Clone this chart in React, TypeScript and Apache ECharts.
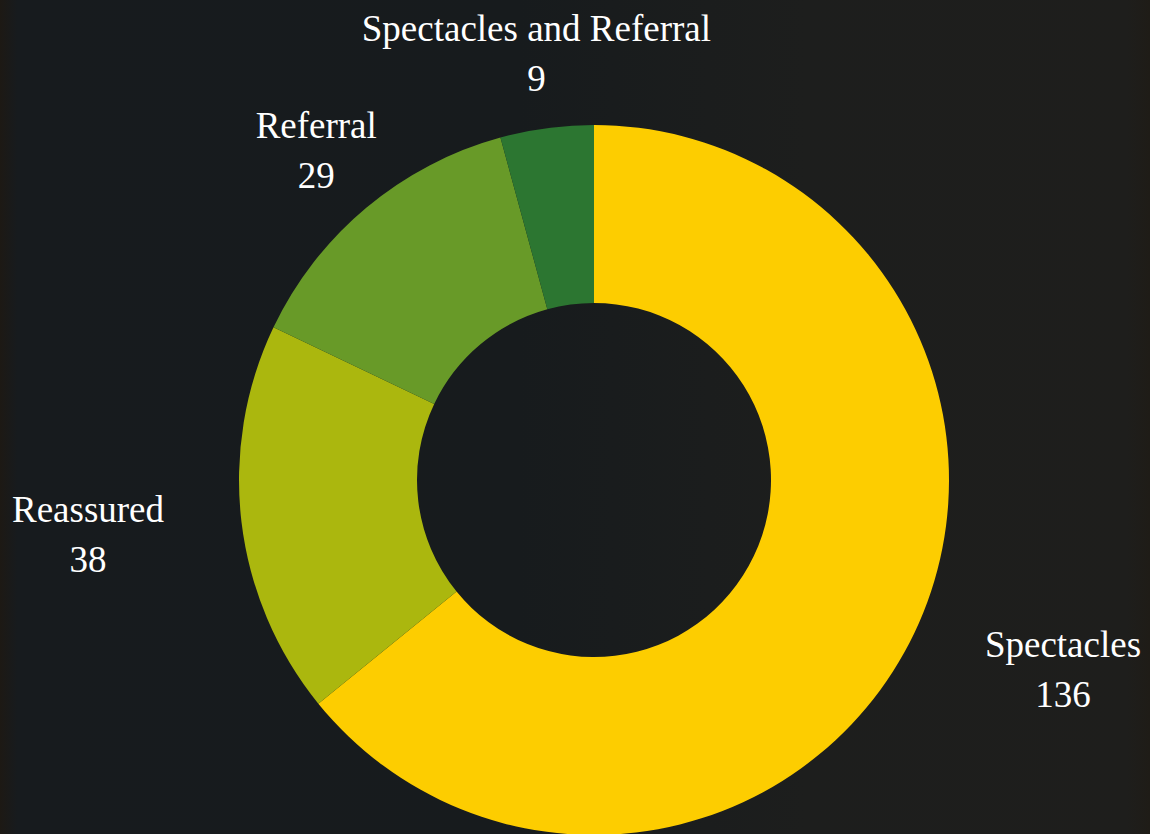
import React, { useEffect, useRef } from "react";
import * as echarts from "echarts";

const categories: string[] = ["Spectacles", "Reassured", "Referral", "Spectacles and Referral"];
const values: number[] = [136, 38, 29, 9];
const colors: string[] = ["#FDCD00", "#ABB70E", "#689A28", "#2C7631"];

export default function App() {
  const ref = useRef<HTMLDivElement>(null);

  useEffect(() => {
    document.body.style.margin = "0";
    if (!ref.current) return;
    const chart = echarts.init(ref.current, null, { renderer: "svg" });
    const total = values.reduce((a, b) => a + b, 0);
    const midAngles: number[] = [];
    let acc = 0;
    values.forEach((v) => {
      midAngles.push(((acc + v / 2) / total) * Math.PI * 2);
      acc += v;
    });

    chart.setOption({
      animation: false,
      backgroundColor: {
        type: "linear",
        x: 0,
        y: 0,
        x2: 1,
        y2: 0,
        colorStops: [
          { offset: 0, color: "#1d1914" },
          { offset: 0.015, color: "#171b1e" },
          { offset: 0.45, color: "#171b1d" },
          { offset: 0.7, color: "#1d1e1d" },
          { offset: 0.98, color: "#1e1e1c" },
          { offset: 1, color: "#1f1c17" },
        ],
      },
      series: [
        {
          type: "pie",
          center: [594, 480],
          radius: [177, 355],
          startAngle: 90,
          clockwise: true,
          avoidLabelOverlap: false,
          data: categories.map((name, i) => ({
            name,
            value: values[i],
            itemStyle: { color: colors[i] },
          })),
          itemStyle: { borderWidth: 0 },
          label: {
            show: true,
            position: "outside",
            distanceToLabelLine: 0,
            formatter: "{c|{b}}\n{c|{c}}",
            rich: {
              c: {
                align: "center",
                color: "#ffffff",
                fontFamily: "Liberation Serif",
                fontSize: 37,
                lineHeight: 50,
              },
            },
          },
          labelLine: { show: false, length: 78, length2: 0 },
          labelLayout: (params: any) => {
            const i = params.dataIndex;
            const a = midAngles[i];
            const dx = Math.sin(a);
            const dy = -Math.cos(a);
            if (Math.abs(dy) > Math.abs(dx)) {
              const r = params.labelRect;
              const anchorX = params.align === "left" ? r.x : r.x + r.width;
              return { x: anchorX, align: "center", dy: 3 };
            }
            return { dy: 3 };
          },
          emphasis: { disabled: true },
        },
      ],
    });
    return () => chart.dispose();
  }, []);

  return (
    <div
      ref={ref}
      style={{ position: "absolute", left: 0, top: 0, width: 1150, height: 834 }}
    />
  );
}
